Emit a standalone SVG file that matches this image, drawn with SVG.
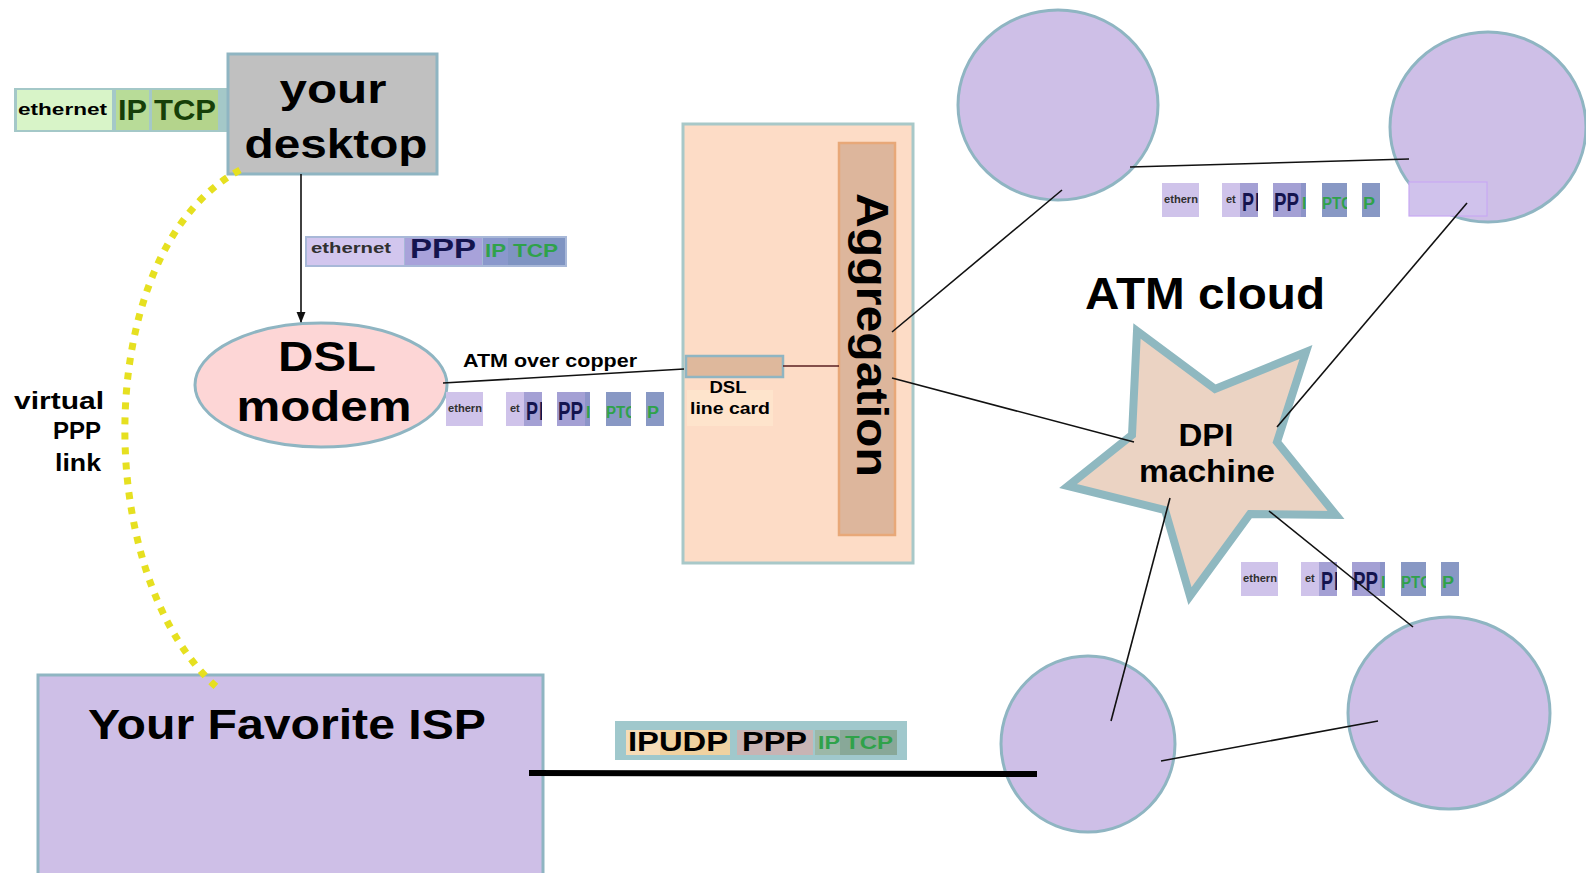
<svg xmlns="http://www.w3.org/2000/svg" xmlns:xlink="http://www.w3.org/1999/xlink" width="1586" height="873" viewBox="0 0 1586 873">
<style>
text{font-family:"Liberation Sans",Arial,sans-serif;font-weight:bold;fill:#000}
.node{stroke:#8fb5c2;stroke-width:3}
.purple{fill:#cebfe7}
.conn{stroke:#111;stroke-width:1.6;fill:none}
.navy{fill:#14144e}
.green{fill:#2fa24a}
.dg{fill:#173f08}
.small{fill:#303030}
.dots{fill:none;stroke:#e6e020;stroke-width:7;stroke-dasharray:7 8}
</style>
<defs>
<marker id="arr" viewBox="0 0 10 10" refX="9" refY="5" markerWidth="7" markerHeight="7" orient="auto">
<path d="M0,1 L10,5 L0,9 z" fill="#111"/>
</marker>
<clipPath id="c1"><rect x="0" y="0" width="37" height="34"/></clipPath>
<clipPath id="c2"><rect x="60" y="0" width="36" height="34"/></clipPath>
<clipPath id="c3"><rect x="111" y="0" width="33" height="34"/></clipPath>
<clipPath id="c4"><rect x="160" y="0" width="25" height="34"/></clipPath>
<clipPath id="c5"><rect x="200" y="0" width="18" height="34"/></clipPath>
<g id="frags">
<g clip-path="url(#c1)">
<rect x="0" y="0" width="37" height="34" fill="#cfc3ea"/>
<text x="2" y="20" font-size="11" class="small" textLength="34" lengthAdjust="spacingAndGlyphs">ethern</text>
</g>
<g clip-path="url(#c2)">
<rect x="60" y="0" width="18" height="34" fill="#cfc3ea"/>
<rect x="78" y="0" width="18" height="34" fill="#a4a0d4"/>
<text x="64" y="20" font-size="11" class="small">et</text>
<text x="80" y="28" font-size="26" class="navy" textLength="12" lengthAdjust="spacingAndGlyphs">P</text>
<text x="93" y="28" font-size="26" class="navy" textLength="12" lengthAdjust="spacingAndGlyphs">P</text>
</g>
<g clip-path="url(#c3)">
<rect x="111" y="0" width="28" height="34" fill="#a4a0d4"/>
<rect x="139" y="0" width="5" height="34" fill="#8c94c8"/>
<text x="112" y="28" font-size="26" class="navy" textLength="25" lengthAdjust="spacingAndGlyphs">PP</text>
<text x="140" y="26" font-size="16" class="green">I</text>
</g>
<g clip-path="url(#c4)">
<rect x="160" y="0" width="25" height="34" fill="#8898c4"/>
<text x="160" y="26" font-size="16" class="green" textLength="30" lengthAdjust="spacingAndGlyphs">PTC</text>
</g>
<g clip-path="url(#c5)">
<rect x="200" y="0" width="18" height="34" fill="#8898c4"/>
<text x="201" y="26" font-size="16" class="green" textLength="12" lengthAdjust="spacingAndGlyphs">P</text>
</g>
</g>
</defs>
<rect width="1586" height="873" fill="#fff"/>

<!-- header: ethernet IP TCP -->
<g id="hdr-desktop">
<rect x="14" y="88" width="220" height="44" fill="#a4c8c8"/>
<rect x="17" y="90" width="95" height="40" fill="#d8f4c8"/>
<rect x="116" y="90" width="33" height="40" fill="#b8dc98"/>
<rect x="152" y="90" width="66" height="40" fill="#b4d48c"/>
<text x="18" y="115" font-size="17" fill="#202020" textLength="89" lengthAdjust="spacingAndGlyphs">ethernet</text>
<text x="118" y="120" font-size="30" class="dg" textLength="29" lengthAdjust="spacingAndGlyphs">IP</text>
<text x="154" y="120" font-size="30" class="dg" textLength="62" lengthAdjust="spacingAndGlyphs">TCP</text>
</g>

<!-- your desktop -->
<g id="desktop">
<rect class="node" x="228" y="54" width="209" height="120" fill="#c0c0c0" stroke-width="3.5"/>
<text x="333" y="103" font-size="41" text-anchor="middle" textLength="107" lengthAdjust="spacingAndGlyphs">your</text>
<text x="336" y="158" font-size="41" text-anchor="middle" textLength="183" lengthAdjust="spacingAndGlyphs">desktop</text>
</g>

<!-- header: ethernet PPP IP TCP -->
<g id="hdr-ppp">
<rect x="305" y="236" width="262" height="31" fill="#a8b8d8"/>
<rect x="307" y="238" width="97" height="27" fill="#d2c6ee"/>
<rect x="405" y="238" width="77" height="27" fill="#a8a2da"/>
<rect x="483" y="238" width="25" height="27" fill="#8a98cc"/>
<rect x="508" y="238" width="57" height="27" fill="#7f94c2"/>
<text x="311" y="253" font-size="14" class="small" textLength="80" lengthAdjust="spacingAndGlyphs">ethernet</text>
<text x="410" y="258" font-size="27" class="navy" textLength="66" lengthAdjust="spacingAndGlyphs">PPP</text>
<text x="485" y="257" font-size="18" class="green" textLength="21" lengthAdjust="spacingAndGlyphs">IP</text>
<text x="513" y="257" font-size="18" class="green" textLength="45" lengthAdjust="spacingAndGlyphs">TCP</text>
</g>

<!-- DSL modem -->
<g id="dsl-modem">
<ellipse class="node" cx="321" cy="385" rx="126" ry="62" fill="#fdd6d6" stroke-width="2.5"/>
<text x="327" y="371" font-size="42" text-anchor="middle" textLength="98" lengthAdjust="spacingAndGlyphs">DSL</text>
<text x="324" y="421" font-size="42" text-anchor="middle" textLength="175" lengthAdjust="spacingAndGlyphs">modem</text>
</g>

<text x="463" y="367" font-size="18" textLength="174" lengthAdjust="spacingAndGlyphs">ATM over copper</text>

<g id="frag-modem"><use xlink:href="#frags" x="446" y="392"/></g>

<!-- Aggregation box -->
<g id="aggregation-box">
<rect x="683" y="124" width="230" height="439" fill="#fddcc6" stroke="#a8c8c8" stroke-width="3"/>
<rect x="839" y="143" width="56" height="392" fill="#ddb69c" stroke="#e8a878" stroke-width="2.5"/>
<text transform="translate(857,335) rotate(90)" x="0" y="0" font-size="44" text-anchor="middle" textLength="284" lengthAdjust="spacingAndGlyphs">Aggregation</text>
</g>

<!-- DSL line card -->
<g id="line-card">
<rect x="687" y="390" width="86" height="36" fill="#fee4cc"/>
<rect x="686" y="356" width="97" height="21" fill="#deb89c" stroke="#8fb5c2" stroke-width="2.5"/>
<text x="728" y="393" font-size="16" text-anchor="middle" fill="#2a1010" textLength="37" lengthAdjust="spacingAndGlyphs">DSL</text>
<text x="730" y="414" font-size="16" text-anchor="middle" fill="#2a1010" textLength="80" lengthAdjust="spacingAndGlyphs">line card</text>
</g>

<!-- ATM cloud circles -->
<g id="atm-node-1"><ellipse class="node purple" cx="1058" cy="105" rx="100" ry="95"/></g>
<g id="atm-node-2">
<ellipse class="node purple" cx="1488" cy="127" rx="98" ry="95"/>
<rect x="1409" y="182" width="78" height="34" fill="#d0c2ec" stroke="#c8a8f4" stroke-width="1.2"/>
</g>
<g id="atm-node-3"><ellipse class="node purple" cx="1088" cy="744" rx="87" ry="88"/></g>
<g id="atm-node-4"><ellipse class="node purple" cx="1449" cy="713" rx="101" ry="96"/></g>

<g id="frag-top"><use xlink:href="#frags" x="1162" y="183"/></g>
<g id="frag-bottom"><use xlink:href="#frags" x="1241" y="562"/></g>

<text x="1085" y="309" font-size="44" textLength="240" lengthAdjust="spacingAndGlyphs">ATM cloud</text>

<!-- DPI machine -->
<g id="dpi-machine">
<polygon points="1137,331 1215,389 1306,352 1277,442 1336,515 1250,514 1190,596 1165,510 1068,486 1132,435" fill="#ebd3c3" stroke="#8fb8c0" stroke-width="8" stroke-linejoin="miter"/>
<text x="1206" y="446" font-size="32" text-anchor="middle" textLength="55" lengthAdjust="spacingAndGlyphs">DPI</text>
<text x="1207" y="482" font-size="32" text-anchor="middle" textLength="136" lengthAdjust="spacingAndGlyphs">machine</text>
</g>

<!-- ISP -->
<g id="isp">
<rect class="node purple" x="38" y="675" width="505" height="210"/>
<text x="287" y="739" font-size="42" text-anchor="middle" textLength="398" lengthAdjust="spacingAndGlyphs">Your Favorite ISP</text>
</g>

<!-- header: IPUDP PPP IP TCP -->
<g id="hdr-isp">
<rect x="615" y="721" width="292" height="39" fill="#a0c8cc"/>
<rect x="626" y="730" width="34" height="25" fill="#f6dcb8"/>
<rect x="660" y="730" width="70" height="25" fill="#f0d2a0"/>
<rect x="737" y="730" width="76" height="25" fill="#c8b4b4"/>
<rect x="815" y="730" width="25" height="25" fill="#9cb8a8"/>
<rect x="840" y="730" width="57" height="25" fill="#88a898"/>
<text x="628" y="751" font-size="27" textLength="100" lengthAdjust="spacingAndGlyphs">IPUDP</text>
<text x="742" y="751" font-size="27" fill="#301010" textLength="65" lengthAdjust="spacingAndGlyphs">PPP</text>
<text x="818" y="749" font-size="18" class="green" textLength="22" lengthAdjust="spacingAndGlyphs">IP</text>
<text x="845" y="749" font-size="18" class="green" textLength="48" lengthAdjust="spacingAndGlyphs">TCP</text>
</g>

<!-- virtual PPP link -->
<g id="virtual-link">
<path class="dots" d="M240,170 C90,250 90,580 220,690"/>
<text x="104" y="409" font-size="23" text-anchor="end" textLength="90" lengthAdjust="spacingAndGlyphs">virtual</text>
<text x="101" y="439" font-size="23" text-anchor="end" textLength="48" lengthAdjust="spacingAndGlyphs">PPP</text>
<text x="101" y="471" font-size="23" text-anchor="end" textLength="46" lengthAdjust="spacingAndGlyphs">link</text>
</g>

<!-- connectors -->
<g id="connectors">
<line class="conn" x1="301" y1="174" x2="301" y2="322" marker-end="url(#arr)"/>
<line class="conn" x1="443" y1="383" x2="684" y2="369"/>
<line x1="783" y1="366" x2="839" y2="366" stroke="#5a2020" stroke-width="1.6"/>
<line class="conn" x1="892" y1="332" x2="1062" y2="190"/>
<line class="conn" x1="892" y1="378" x2="1134" y2="442"/>
<line class="conn" x1="1130" y1="167" x2="1409" y2="159"/>
<line class="conn" x1="1467" y1="203" x2="1277" y2="427"/>
<line class="conn" x1="1170" y1="498" x2="1111" y2="721"/>
<line class="conn" x1="1269" y1="511" x2="1413" y2="627"/>
<line class="conn" x1="1161" y1="761" x2="1378" y2="721"/>
<line x1="529" y1="773" x2="1037" y2="774" stroke="#000" stroke-width="6"/>
</g>
</svg>
